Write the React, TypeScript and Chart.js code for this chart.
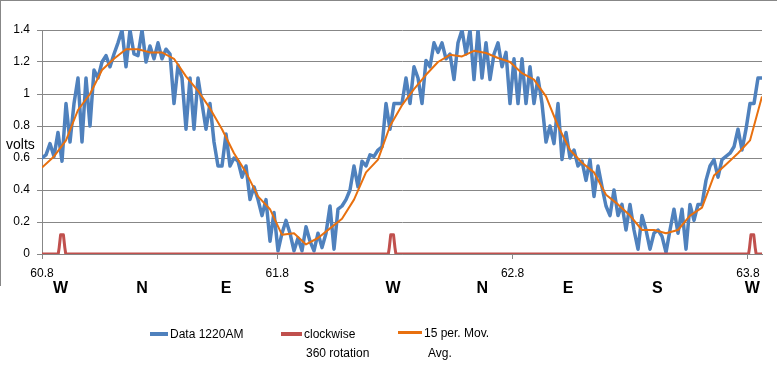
import React, { useEffect, useRef } from 'react';
import { Chart, registerables } from 'chart.js';

Chart.register(...registerables);

// ---- data ----
const X_MIN = 60.8;
const X_MAX = 63.86;
const xTickValues = [60.8, 61.8, 62.8, 63.8];
const Y_MIN = 0;
const Y_MAX = 1.4;
const Y_STEP = 0.2;

const BLUE_START = 60.8;
const BLUE_STEP = 0.017;
const blueValues = [
  0.6, 0.62, 0.69, 0.61, 0.76, 0.58, 0.94, 0.7, 0.94, 1.1,
  0.7, 1.1, 0.8, 1.15, 1.1, 1.2, 1.24, 1.17, 1.25, 1.32,
  1.4, 1.17, 1.4, 1.25, 1.24, 1.4, 1.2, 1.3, 1.22, 1.32,
  1.22, 1.28, 1.25, 0.94, 1.18, 1.1, 0.78, 1.1, 0.78, 1.1,
  0.94, 0.78, 0.94, 0.7, 0.55,
  0.55, 0.75, 0.55, 0.6, 0.58,
  0.48, 0.55, 0.34, 0.42, 0.34, 0.24, 0.34, 0.08, 0.26, 0.02,
  0.13, 0.21, 0.13, 0.02, 0.1, 0.02, 0.17, 0.08, 0.02, 0.13,
  0.04, 0.13, 0.3, 0.03, 0.28, 0.3, 0.34, 0.4, 0.55, 0.42,
  0.58, 0.55, 0.62, 0.61, 0.65, 0.67, 0.94, 0.78, 0.94, 0.94,
  0.94, 1.1, 0.94, 1.17, 1.1, 0.94, 1.21, 1.17, 1.32, 1.26,
  1.32, 1.22, 1.25, 1.09, 1.32, 1.4, 1.25, 1.4, 1.09, 1.4,
  1.1, 1.32, 1.09, 1.25, 1.32, 1.17, 1.26, 0.94, 1.22, 0.94,
  1.22, 0.94, 1.17, 0.94, 1.1, 0.94, 0.7, 0.8, 0.69, 0.94,
  0.59, 0.76, 0.6, 0.65, 0.55,
  0.58, 0.46, 0.59, 0.36, 0.55,
  0.42, 0.3, 0.24, 0.4, 0.24, 0.31, 0.15, 0.31, 0.15, 0.03,
  0.24, 0.15, 0.03, 0.13, 0.15, 0.11, 0.01, 0.15, 0.28, 0.13,
  0.28, 0.03, 0.31, 0.21, 0.31, 0.31, 0.46, 0.55, 0.59, 0.48,
  0.59, 0.61, 0.63, 0.67, 0.78, 0.65, 0.78, 0.94, 0.94, 1.1, 1.1,
];

const ORANGE_START = 60.8;
const ORANGE_STEP = 0.051;
const orangeValues = [
  0.54, 0.61, 0.71, 0.9, 1.0, 1.15, 1.22, 1.28, 1.28, 1.26,
  1.26, 1.22, 1.11, 1.02, 0.91, 0.78, 0.63, 0.51, 0.36, 0.28,
  0.12, 0.13, 0.06, 0.1, 0.16, 0.22, 0.34, 0.51, 0.59, 0.8,
  0.93, 1.03, 1.12, 1.2, 1.245, 1.235, 1.27, 1.256, 1.225, 1.2,
  1.13, 1.09, 0.985, 0.8, 0.65, 0.57, 0.51, 0.37, 0.31, 0.24,
  0.15, 0.15, 0.13, 0.15, 0.24, 0.29, 0.49, 0.56, 0.63, 0.71, 0.985,
];

const redX = [
  60.8, 60.869, 60.873, 60.879, 60.891, 60.897, 60.901,
  62.272, 62.276, 62.282, 62.294, 62.3, 62.304,
  63.803, 63.807, 63.813, 63.825, 63.831, 63.835, 63.86,
];
const redY = [
  0, 0, 0.04, 0.12, 0.12, 0.04, 0,
  0, 0.04, 0.12, 0.12, 0.04, 0,
  0, 0.04, 0.12, 0.12, 0.04, 0, 0,
];

const compassLabels = ['W', 'N', 'E', 'S', 'W', 'N', 'E', 'S', 'W'];
const compassX = [60.879, 61.225, 61.582, 61.935, 62.292, 62.671, 63.036, 63.415, 63.819];

const seriesNames = ['Data 1220AM', 'clockwise 360 rotation', '15 per. Mov. Avg.'];
const yAxisTitle = 'volts';

const BLUE = '#4F81BD';
const RED = '#C0504D';
const ORANGE = '#E8700F';
const GRID = '#878787';
const FONT = '"Liberation Sans", Arial, sans-serif';

const extraText = {
  id: 'extraText',
  afterDraw(chart: any) {
    const ctx = chart.ctx;
    const xs = chart.scales.x;
    ctx.save();
    ctx.fillStyle = '#000';
    ctx.font = 'bold 16px ' + FONT;
    ctx.textAlign = 'center';
    ctx.textBaseline = 'middle';
    compassLabels.forEach((l, i) => {
      ctx.fillText(l, xs.getPixelForValue(compassX[i]), 289);
    });
    ctx.font = '14px ' + FONT;
    ctx.textAlign = 'left';
    ctx.fillText(yAxisTitle, 6, 145);
    ctx.restore();
  },
};

export default function App() {
  const ref = useRef<HTMLCanvasElement>(null);

  useEffect(() => {
    if (!ref.current) return;
    const chart = new Chart(ref.current, {
      type: 'line',
      data: {
        datasets: [
          {
            label: seriesNames[0],
            data: blueValues.map((v, i) => ({ x: BLUE_START + i * BLUE_STEP, y: v })),
            borderColor: BLUE,
            borderWidth: 3.5,
            pointRadius: 0,
            tension: 0,
            borderJoinStyle: 'round',
            borderCapStyle: 'round',
            order: 3,
          },
          {
            label: seriesNames[1],
            data: redX.map((x, i) => ({ x, y: redY[i] })),
            borderColor: RED,
            borderWidth: 3,
            pointRadius: 0,
            tension: 0,
            borderJoinStyle: 'round',
            order: 2,
          },
          {
            label: seriesNames[2],
            data: orangeValues.map((v, i) => ({ x: ORANGE_START + i * ORANGE_STEP, y: v })),
            borderColor: ORANGE,
            borderWidth: 2,
            pointRadius: 0,
            tension: 0,
            borderJoinStyle: 'round',
            order: 1,
          },
        ],
      } as any,
      options: {
        animation: false,
        responsive: false,
        maintainAspectRatio: false,
        layout: { padding: { top: 30, right: 15, left: 0, bottom: 0 } },
        plugins: { legend: { display: false }, tooltip: { enabled: false } },
        scales: {
          x: {
            type: 'linear',
            min: X_MIN,
            max: X_MAX,
            afterBuildTicks: (scale: any) => {
              scale.ticks = xTickValues.map((v) => ({ value: v }));
            },
            afterFit: (scale: any) => {
              scale.height = 115;
            },
            ticks: {
              autoSkip: false,
              maxRotation: 0,
              padding: 7,
              color: '#000',
              font: { family: FONT, size: 12 },
              callback: (v: any) => Number(v).toFixed(1),
            },
            grid: {
              drawOnChartArea: false,
              drawTicks: true,
              tickLength: 5,
              color: GRID,
            },
            border: { color: GRID },
          },
          y: {
            min: Y_MIN,
            max: Y_MAX,
            afterFit: (scale: any) => {
              scale.width = 42;
            },
            ticks: {
              stepSize: Y_STEP,
              padding: 7,
              color: '#000',
              font: { family: FONT, size: 12 },
              callback: (v: any) => String(Number(Number(v).toFixed(1))),
            },
            grid: { color: GRID, tickLength: 5, drawTicks: true },
            border: { color: GRID },
          },
        },
      } as any,
      plugins: [extraText],
    });
    return () => chart.destroy();
  }, []);

  const txt: React.CSSProperties = {
    position: 'absolute',
    fontFamily: FONT,
    fontSize: 12,
    lineHeight: '14px',
    color: '#000',
    whiteSpace: 'nowrap',
  };

  return (
    <div style={{ position: 'fixed', left: 0, top: 0, width: 777, height: 369, background: '#fff', overflow: 'hidden' }}>
      <canvas ref={ref} width={777} height={369} style={{ display: 'block', position: 'absolute', left: 0, top: 0 }} />
      <div style={{ position: 'absolute', left: 0, top: 0, width: 777, height: 1, background: GRID }} />
      <div style={{ position: 'absolute', left: 0, top: 0, width: 1, height: 286, background: GRID }} />
      <div style={{ position: 'absolute', left: 150, top: 332, width: 18, height: 4, background: BLUE }} />
      <div style={{ ...txt, left: 170, top: 327 }}>Data 1220AM</div>
      <div style={{ position: 'absolute', left: 281, top: 332, width: 21, height: 4, background: RED }} />
      <div style={{ ...txt, left: 304, top: 327 }}>clockwise</div>
      <div style={{ ...txt, left: 306, top: 346 }}>360 rotation</div>
      <div style={{ position: 'absolute', left: 398, top: 331, width: 24, height: 3, background: ORANGE }} />
      <div style={{ ...txt, left: 424, top: 326 }}>15 per. Mov.</div>
      <div style={{ ...txt, left: 428, top: 346 }}>Avg.</div>
    </div>
  );
}
